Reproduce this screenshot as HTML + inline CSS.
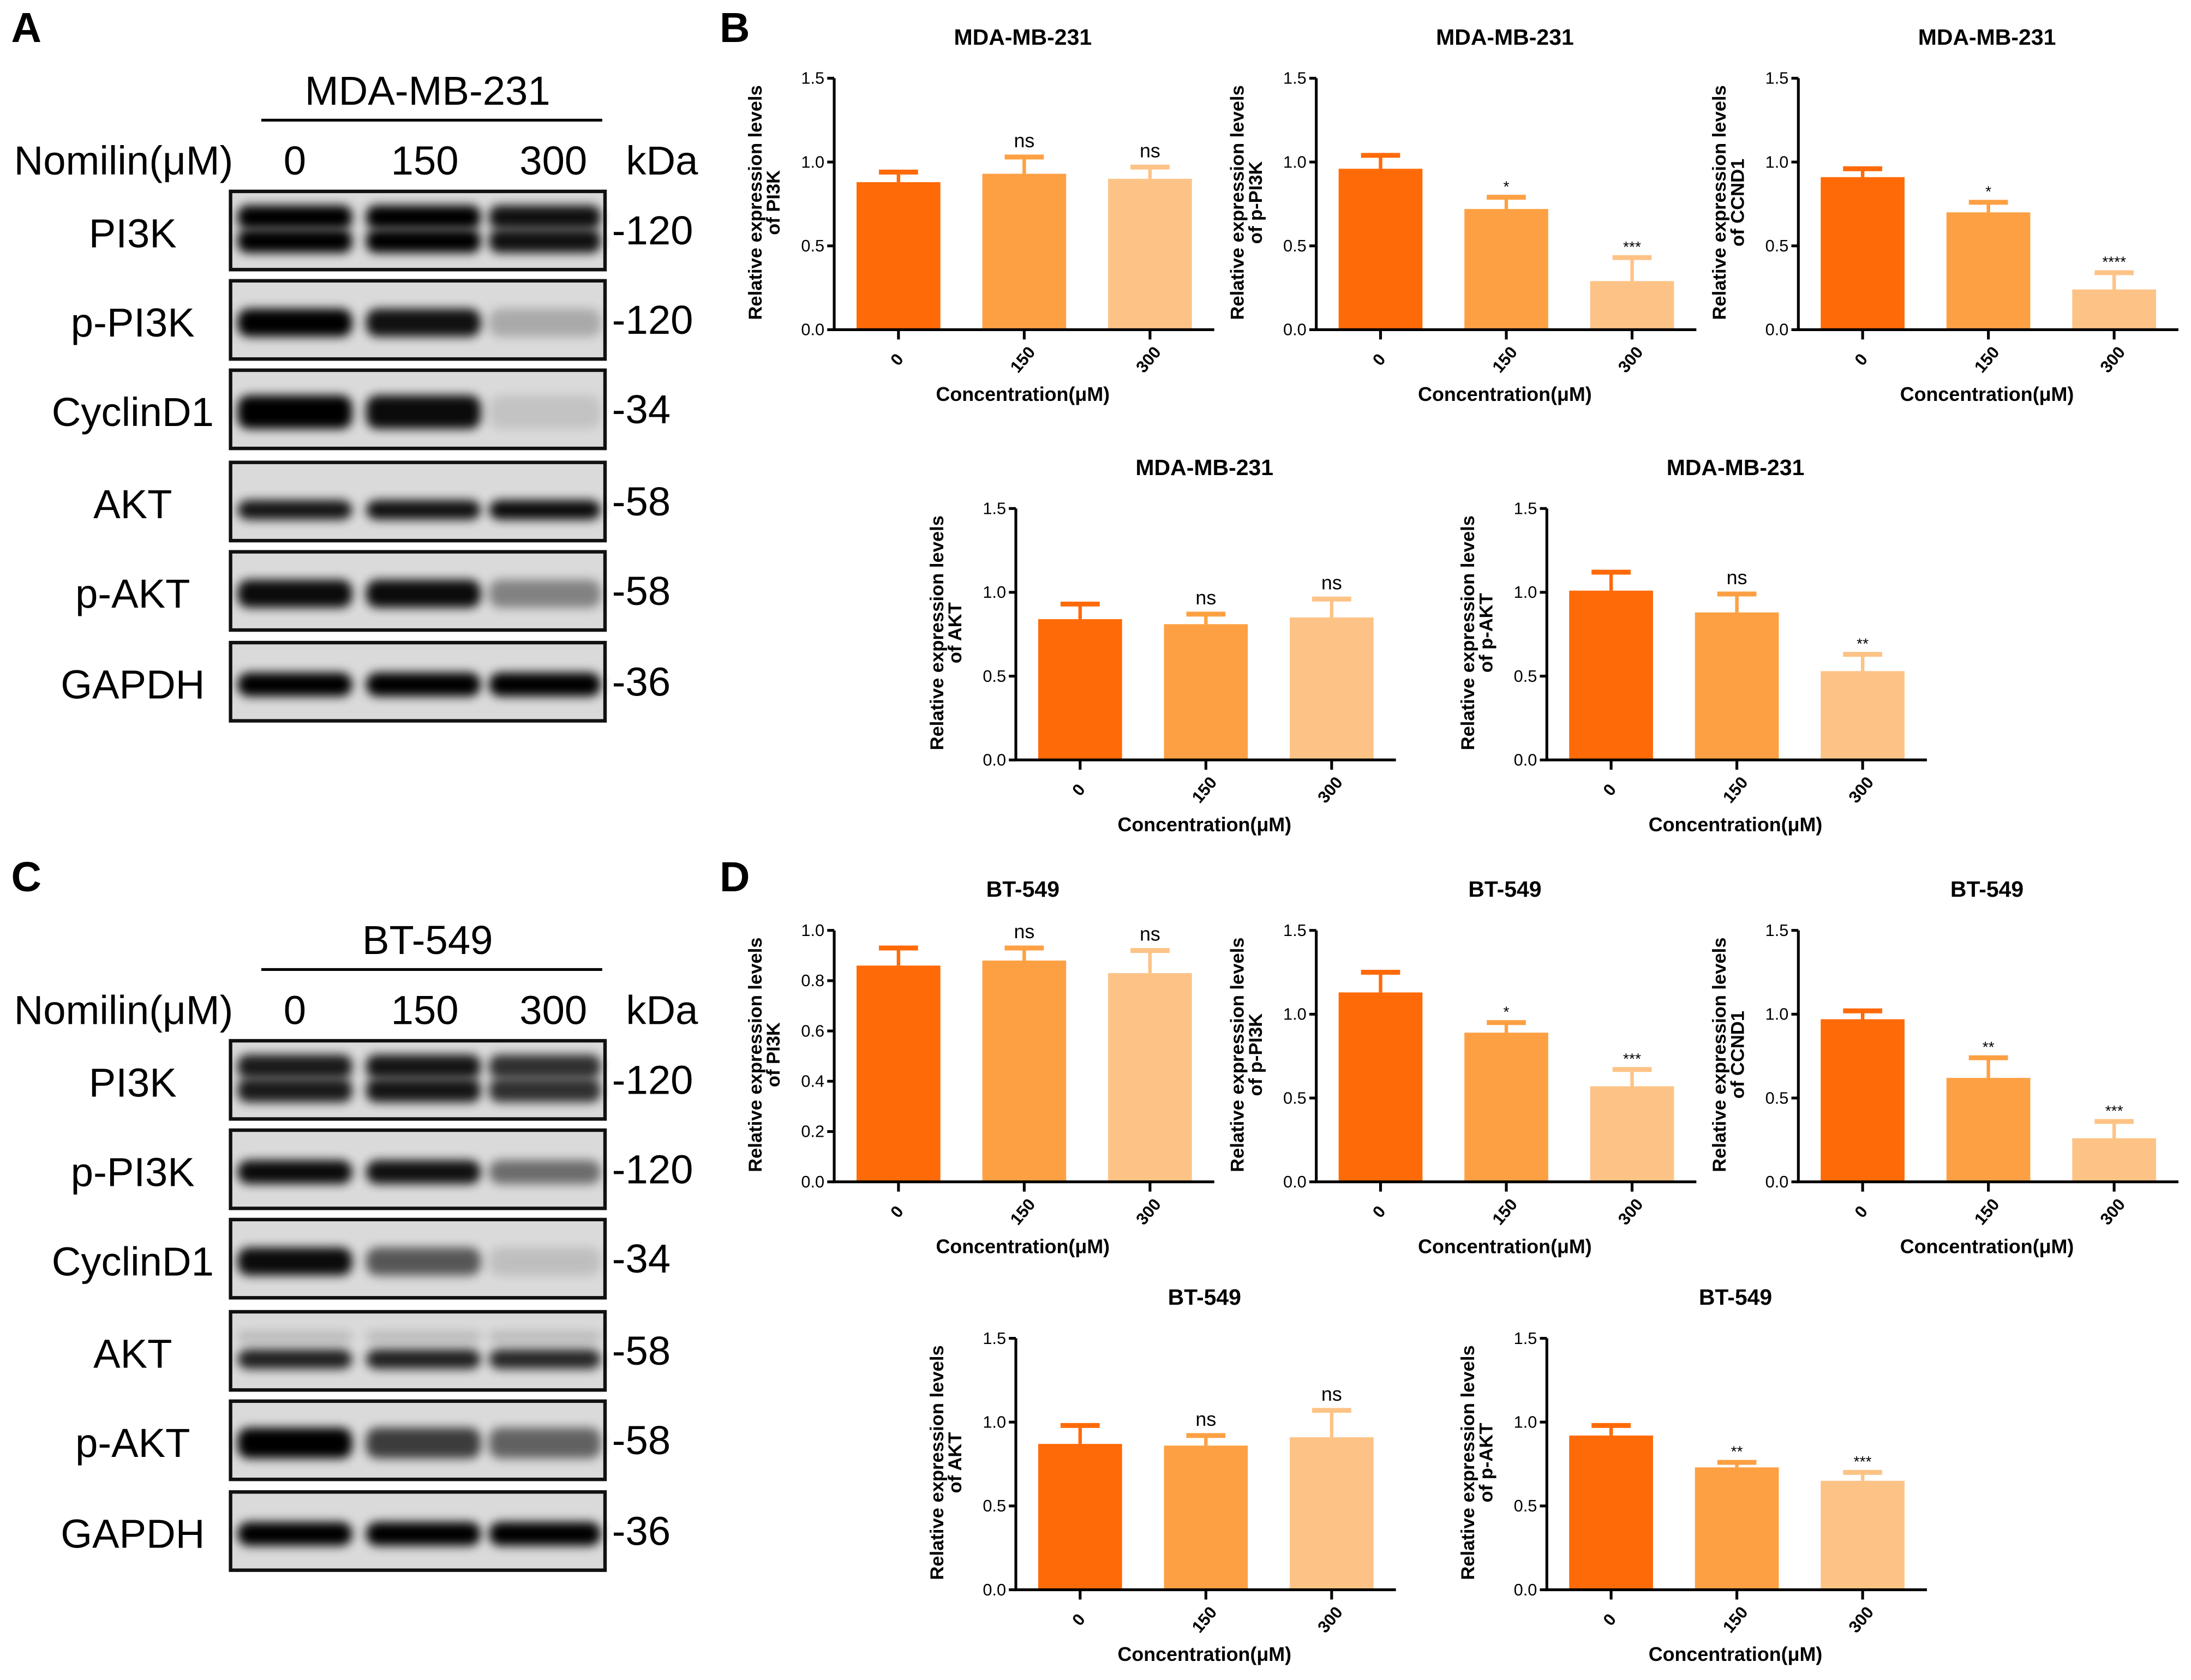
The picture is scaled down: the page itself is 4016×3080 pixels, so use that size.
<!DOCTYPE html>
<html><head><meta charset="utf-8"><style>html,body{margin:0;padding:0;background:#fff}svg{display:block}</style></head>
<body>
<svg id="s" xmlns="http://www.w3.org/2000/svg" width="4016" height="3080" viewBox="0 0 1568 1202.6" preserveAspectRatio="none" font-family="Liberation Sans, Arial, sans-serif">
<defs>
<filter id="bl" x="-20%" y="-80%" width="140%" height="260%"><feGaussianBlur stdDeviation="3.5"/></filter>
</defs>
<rect width="1568" height="1202.6" fill="#fff"/>
</svg>
<script>
const s=document.getElementById('s');let h='';
function T(x,y,t,sz,o){o=o||{};h+=`<text x="${x}" y="${y}" font-size="${sz}" ${o.b?'font-weight="bold"':''} text-anchor="${o.a||'start'}" ${o.r!==undefined?`transform="rotate(${o.r} ${x} ${y})"`:''} fill="#000">${t}</text>`;}
function blot(oy,title,rows){
 T(306,oy+75,title,29,{a:'middle'});
 h+=`<line x1="187" y1="${oy+86}" x2="431" y2="${oy+86}" stroke="#000" stroke-width="2"/>`;
 T(10,oy+125,'Nomilin(μM)',29);T(211,oy+125,'0',29,{a:'middle'});T(304,oy+125,'150',29,{a:'middle'});T(396,oy+125,'300',29,{a:'middle'});T(448,oy+125,'kDa',29);
 const tops=[137,201,265,331,395,460];const lanes=[[170,252],[262,344],[350,430]];
 rows.forEach((r,i)=>{const y=oy+tops[i];
  h+=`<rect x="165" y="${y}" width="268" height="56" fill="#dadada" stroke="#111" stroke-width="2.5"/>`;
  r.v.forEach((v,j)=>{const [a,b]=lanes[j];
   if(r.dbl){h+=`<rect x="${a}" y="${y+10}" width="${b-a}" height="17" rx="7" fill="#000" opacity="${v}" filter="url(#bl)"/>`;
    h+=`<rect x="${a}" y="${y+27}" width="${b-a}" height="17" rx="7" fill="#000" opacity="${v}" filter="url(#bl)"/>`;}
   else {const th=r.th||18;h+=`<rect x="${a}" y="${y+(r.c||30)-th/2}" width="${b-a}" height="${th}" rx="8" fill="#000" opacity="${v}" filter="url(#bl)"/>`;
    if(r.up)h+=`<rect x="${a}" y="${y+14}" width="${b-a}" height="8" rx="4" fill="#000" opacity="${r.up}" filter="url(#bl)"/>`;}
  });
  T(95,y+40,r.n,29,{a:'middle'});T(438,y+38,r.k,29);
 });
}
T(8,30,'A',30,{b:1});T(8,638,'C',30,{b:1});T(515,30,'B',30,{b:1});T(515,638,'D',30,{b:1});
blot(0,'MDA-MB-231',[{n:'PI3K',k:'-120',v:[1,1,0.92],dbl:1},{n:'p-PI3K',k:'-120',v:[1,0.92,0.22],th:20},{n:'CyclinD1',k:'-34',v:[1,0.95,0.1],th:24},{n:'AKT',k:'-58',v:[0.9,0.92,0.95],th:14,c:34},{n:'p-AKT',k:'-58',v:[0.95,0.95,0.4],th:20},{n:'GAPDH',k:'-36',v:[1,1,1],th:17}]);
blot(608,'BT-549',[{n:'PI3K',k:'-120',v:[0.88,0.9,0.78],dbl:1},{n:'p-PI3K',k:'-120',v:[0.95,0.92,0.5],th:17},{n:'CyclinD1',k:'-34',v:[0.95,0.6,0.12],th:20},{n:'AKT',k:'-58',v:[0.85,0.85,0.82],th:14,c:34,up:0.15},{n:'p-AKT',k:'-58',v:[1,0.72,0.55],th:22},{n:'GAPDH',k:'-36',v:[1,1,1],th:17}]);
const col=['#ff6a08','#fda043','#fdc386'];
function chart(ax,y0,title,lab,max,step,vals,errs,sig){
 const top=y0-180,sc=180/max,W=272;
 T(ax+135,top-24,title,16,{a:'middle',b:1});
 vals.forEach((v,i)=>{const cx=ax+46+i*90,yb=y0-v*sc,ye=y0-errs[i]*sc;
  h+=`<rect x="${cx-30}" y="${yb}" width="60" height="${v*sc}" fill="${col[i]}"/>`;
  h+=`<line x1="${cx}" y1="${yb}" x2="${cx}" y2="${ye}" stroke="${col[i]}" stroke-width="2.5"/><line x1="${cx-14}" y1="${ye}" x2="${cx+14}" y2="${ye}" stroke="${col[i]}" stroke-width="3.5"/>`;
  if(sig[i]){const ns=sig[i]=='ns';T(cx,ye-(ns?7:4),sig[i],ns?14:11,{a:'middle'});}
  h+=`<line x1="${cx}" y1="${y0}" x2="${cx}" y2="${y0+7}" stroke="#000" stroke-width="2"/>`;
  T(cx+2,y0+24,['0','150','300'][i],12,{a:'middle',r:-50,b:1});
 });
 h+=`<polyline points="${ax},${top} ${ax},${y0} ${ax+W},${y0}" fill="none" stroke="#000" stroke-width="2"/>`;
 for(let t=0;t<=max+1e-9;t+=step){const y=y0-t*sc;h+=`<line x1="${ax-5}" y1="${y}" x2="${ax}" y2="${y}" stroke="#000" stroke-width="2"/>`;T(ax-7,y+4,t.toFixed(1),12,{a:'end'});}
 T(ax+135,y0+51,'Concentration(μM)',14,{a:'middle',b:1});
 const yc=y0-91;T(ax-52,yc,'Relative expression levels',13.5,{a:'middle',b:1,r:-90});T(ax-39,yc,'of '+lab,13.5,{a:'middle',b:1,r:-90});
}
chart(597,236,'MDA-MB-231','PI3K',1.5,0.5,[0.88,0.93,0.9],[0.94,1.03,0.97],['','ns','ns']);
chart(942,236,'MDA-MB-231','p-PI3K',1.5,0.5,[0.96,0.72,0.29],[1.04,0.79,0.43],['','*','***']);
chart(1287,236,'MDA-MB-231','CCND1',1.5,0.5,[0.91,0.7,0.24],[0.96,0.76,0.34],['','*','****']);
chart(727,544,'MDA-MB-231','AKT',1.5,0.5,[0.84,0.81,0.85],[0.93,0.87,0.96],['','ns','ns']);
chart(1107,544,'MDA-MB-231','p-AKT',1.5,0.5,[1.01,0.88,0.53],[1.12,0.99,0.63],['','ns','**']);
chart(597,846,'BT-549','PI3K',1.0,0.2,[0.86,0.88,0.83],[0.93,0.93,0.92],['','ns','ns']);
chart(942,846,'BT-549','p-PI3K',1.5,0.5,[1.13,0.89,0.57],[1.25,0.95,0.67],['','*','***']);
chart(1287,846,'BT-549','CCND1',1.5,0.5,[0.97,0.62,0.26],[1.02,0.74,0.36],['','**','***']);
chart(727,1138,'BT-549','AKT',1.5,0.5,[0.87,0.86,0.91],[0.98,0.92,1.07],['','ns','ns']);
chart(1107,1138,'BT-549','p-AKT',1.5,0.5,[0.92,0.73,0.65],[0.98,0.76,0.7],['','**','***']);
s.insertAdjacentHTML('beforeend',h);
</script>
</body></html>
